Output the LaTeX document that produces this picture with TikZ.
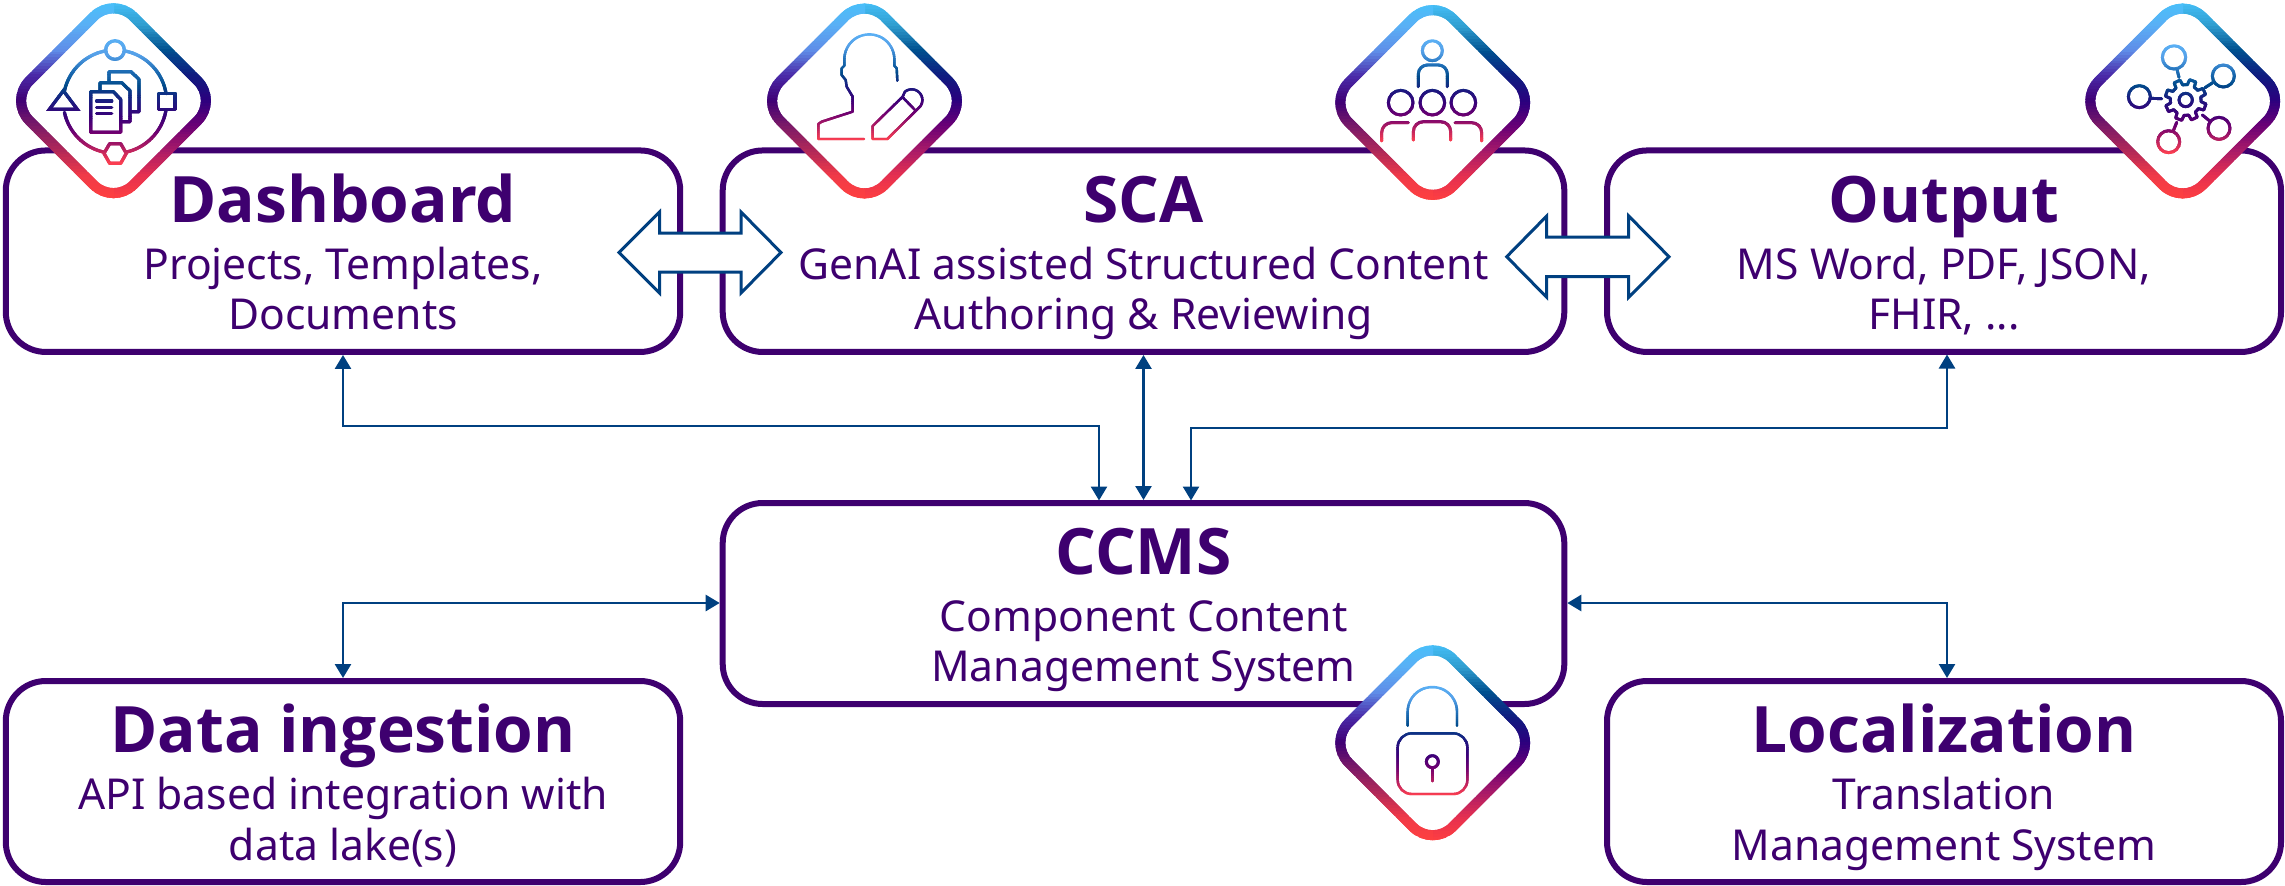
\documentclass[tikz,border=0pt]{standalone}
\usepackage{fontspec}
\setmainfont{Noto Sans}
\newfontfamily\titlefam{Open Sans}
\usetikzlibrary{arrows.meta}
\definecolor{boxp}{HTML}{3E006F}
\definecolor{connb}{HTML}{004080}
% ring stops, left side
\definecolor{RL0}{HTML}{47C1FA}\definecolor{RL1}{HTML}{5AAFF5}\definecolor{RL2}{HTML}{5F8DE8}
\definecolor{RL3}{HTML}{4A2AA8}\definecolor{RL4}{HTML}{3F0075}\definecolor{RL5}{HTML}{7A1A68}
\definecolor{RL6}{HTML}{B02858}\definecolor{RL7}{HTML}{F03A48}\definecolor{RL8}{HTML}{FF4040}
% ring stops, right side
\definecolor{RR0}{HTML}{47C1FA}\definecolor{RR1}{HTML}{2F9ED0}\definecolor{RR2}{HTML}{00508F}
\definecolor{RR3}{HTML}{0F1C80}\definecolor{RR4}{HTML}{2B007E}\definecolor{RR5}{HTML}{6A0076}
\definecolor{RR6}{HTML}{A81A68}\definecolor{RR7}{HTML}{E53050}\definecolor{RR8}{HTML}{FF4040}
% icon stops
\definecolor{IC0}{HTML}{5AB0F5}\definecolor{IC1}{HTML}{55A0E8}\definecolor{IC2}{HTML}{2070B8}
\definecolor{IC3}{HTML}{004A8A}\definecolor{IC4}{HTML}{1C1A80}\definecolor{IC5}{HTML}{3A0078}
\definecolor{IC6}{HTML}{700070}\definecolor{IC7}{HTML}{B82060}\definecolor{IC8}{HTML}{FF4050}
\colorlet{gradcol}{boxp}
\newcommand\gradstrips[7]{%
  \pgfmathsetmacro\gStep{(#5-#4)/#6}%
  \foreach \gi in {1,...,#6}{%
    \pgfmathsetmacro\gT{(\gi-0.5)/#6*8}%
    \pgfmathtruncatemacro\gI{floor(\gT)}%
    \pgfmathtruncatemacro\gN{\gI+1}%
    \pgfmathsetmacro\gF{100*(\gT-\gI)}%
    \colorlet{gradcol}{#1\gN!\gF!#1\gI}%
    \pgfmathsetmacro\gA{#4+(\gi-1)*\gStep}%
    \pgfmathsetmacro\gB{\gA+\gStep*1.6}%
    \begin{scope}\clip (#2,\gA) rectangle (#3,\gB); #7\end{scope}%
  }%
}
\newcommand\gemring[2]{%
  \begin{scope}[shift={(#1,#2)}]
    \fill[white,rounded corners=14pt] (0,-104)--(104,0)--(0,104)--(-104,0)--cycle;
    \gradstrips{RR}{-0.5}{110}{-100}{100}{70}{\draw[ringline] (0,-104)--(104,0)--(0,104)--(-104,0)--cycle;}
    \gradstrips{RL}{-110}{0.5}{-100}{100}{70}{\draw[ringline] (0,-104)--(104,0)--(0,104)--(-104,0)--cycle;}
  \end{scope}%
}
\tikzset{
  boxnode/.style={draw=boxp,line width=3pt,rounded corners=20pt,fill=white,inner sep=0pt},
  titletxt/.style={text=boxp,anchor=base,inner sep=0pt,font=\titlefam\fontsize{32}{36}\selectfont\bfseries},
  subtxt/.style={text=boxp,anchor=base,inner sep=0pt,font=\fontsize{21.3}{25}\selectfont},
  conn/.style={draw=connb,line width=1.3pt,{Triangle[length=7pt,width=8pt]}-{Triangle[length=7pt,width=8pt]}},
  fatarrow/.style={draw=connb,line width=1.5pt,fill=white,line join=miter},
  ringline/.style={draw=gradcol,line width=5pt,rounded corners=14pt},
  il/.style={draw=gradcol,line width=1.2pt,line cap=round,line join=round},
  ilb/.style={il,line width=1.6pt},
  ilm/.style={il,line width=1.45pt},
  zoomframe/.style={x=0.166667pt,y=-0.166667pt}
}
\begin{document}
\begin{tikzpicture}[x=0.5pt,y=-0.5pt]
\useasboundingbox (0,0) rectangle (2285,885);
% boxes
\node[boxnode,minimum width=337.2pt,minimum height=100.75pt] (dash) at (343,251.2) {};
\node[boxnode,minimum width=420.8pt,minimum height=100.75pt] (sca) at (1143.5,251.2) {};
\node[boxnode,minimum width=337pt,minimum height=100.75pt] (out) at (1944,251.2) {};
\node[boxnode,minimum width=420.8pt,minimum height=100.5pt] (ccms) at (1143.5,603.5) {};
\node[boxnode,minimum width=337.2pt,minimum height=100.5pt] (data) at (343,781.5) {};
\node[boxnode,minimum width=337pt,minimum height=100.5pt] (loc) at (1944,781.5) {};
% texts
\node[titletxt] (t1) at (343,222) {Dashboard};
\node[subtxt] (s1a) at (343,279) {Projects, Templates,};
\node[subtxt] (s1b) at (343,329.5) {Documents};
\node[titletxt] (t2) at (1143.5,222) {SCA};
\node[subtxt] (s2a) at (1143.5,279) {GenAI assisted Structured Content};
\node[subtxt] (s2b) at (1143.5,329.5) {Authoring \& Reviewing};
\node[titletxt] (t3) at (1944,222) {Output};
\node[subtxt] (s3a) at (1944,279) {MS Word, PDF, JSON,};
\node[subtxt] (s3b) at (1944,329.5) {FHIR, ...};
\node[titletxt] (t4) at (1143.5,574) {CCMS};
\node[subtxt] (s4a) at (1143.5,631) {Component Content};
\node[subtxt] (s4b) at (1143.5,681.5) {Management System};
\node[titletxt] (t5) at (343,752) {Data ingestion};
\node[subtxt] (s5a) at (343,809) {API based integration with};
\node[subtxt] (s5b) at (343,860) {data lake(s)};
\node[titletxt] (t6) at (1944,752) {Localization};
\node[subtxt] (s6a) at (1944,809) {Translation};
\node[subtxt] (s6b) at (1944,860) {Management System};
% connector helpers
\coordinate (ccmsA) at (1099,500.5);
\coordinate (ccmsB) at (1191,500.5);
\coordinate (outB) at (1947,354.5);
\coordinate (bendA) at (1099,426);
\coordinate (bendB) at (1191,428);
\coordinate (ccmsL) at (ccms.west |- 0,603);
\coordinate (ccmsR) at (ccms.east |- 0,603);
% connectors
\draw[conn] (dash.south) |- (bendA) -- (ccmsA);
\draw[conn] (sca.south) -- (ccms.north);
\draw[conn] (outB) |- (bendB) -- (ccmsB);
\draw[conn] (data.north) |- (ccmsL);
\draw[conn] (loc.north -| outB) |- (ccmsR);
% wide double arrows
\draw[fatarrow] (619,252.5)--(659.5,212)--(659.5,233)--(741,233)--(741,212)--(781,252.5)--(741,293)--(741,272)--(659.5,272)--(659.5,293)--cycle;
\draw[fatarrow] (1506.7,256.7)--(1546.7,216)--(1546.7,237)--(1628.7,237)--(1628.7,216)--(1669,256.7)--(1628.7,297.3)--(1628.7,276.7)--(1546.7,276.7)--(1546.7,297.3)--cycle;
% badges
\gemring{113.5}{100.7}
\gemring{864.5}{101}
\gemring{1432.7}{102.5}
\gemring{2182.7}{101}
\gemring{1432.7}{742.8}
% icon: dashboard
\begin{scope}[shift={(0,0)},zoomframe]
\gradstrips{IC}{130}{550}{118}{495}{60}{%
  \draw[ilb] plot[samples=30,domain=-79:-9] ({345+155*cos(\x)},{305+155*sin(\x)});
  \draw[ilb] plot[samples=30,domain=9:78] ({345+155*cos(\x)},{305+155*sin(\x)});
  \draw[ilb] plot[samples=30,domain=102:168] ({345+155*cos(\x)},{305+155*sin(\x)});
  \draw[ilb] plot[samples=30,domain=192:259] ({345+155*cos(\x)},{305+155*sin(\x)});
  \draw[ilb] (345,150) circle[radius=28];
  \draw[ilb] (312,460)--(329,431)--(362,431)--(379,460)--(362,490)--(329,490)--cycle;
  \draw[ilb] (475,280) rectangle (525,328);
  \draw[ilb,line join=miter] (190,272)--(148,328)--(232,328)--cycle;
  \draw[ilb] (272,275)--(340,275)--(362,298)--(362,397)--(272,397)--cycle;
  \draw[ilb] (300,272)--(300,248)--(365,248)--(390,272)--(390,365)--(364,365);
  \draw[ilb] (327,245)--(327,215)--(393,215)--(417,238)--(417,335)--(392,335);
  \draw[ilb] (290,303)--(335,303);
  \draw[ilb] (290,322)--(335,322);
  \draw[ilb] (290,340)--(335,340);
}
\end{scope}
% icon: author
\begin{scope}[shift={(750,0)},zoomframe]
\gradstrips{IC}{190}{530}{100}{423}{55}{%
  \draw[il] (442,242)--(440,205)--(433,197)--(433,178) -- plot[samples=30,domain=0:-180] ({358+75*cos(\x)},{178+75*sin(\x)}) -- (283,197)--(275,205)--(275,225)--(287,240)--(290,260)--(308,290)--(308,335)--(215,365)--(205,372)--(205,417)--(342,417);
  \draw[il] (368,417)--(368,378)--(458,290) -- plot[samples=30,domain=-130:38] ({485+32*cos(\x)},{300+32*sin(\x)}) -- (412,417)--cycle;
  \draw[il] (458,292)--(495,330);
}
\end{scope}
% icon: team
\begin{scope}[shift={(1320,0)},zoomframe]
\gradstrips{IC}{170}{500}{118}{428}{55}{%
  \draw[ilm] (337,152) circle[radius=30];
  \draw[ilm,rounded corners=4.5pt] (295,260)--(295,195)--(382,195)--(382,260);
  \draw[ilm] (242,308) circle[radius=37];
  \draw[ilm] (337,308) circle[radius=37];
  \draw[ilm] (430,308) circle[radius=37];
  \draw[ilm,rounded corners=5pt] (185,423)--(185,368)--(265,368);
  \draw[ilm,rounded corners=5pt] (280,420)--(280,365)--(392,365)--(392,420);
  \draw[ilm,rounded corners=5pt] (405,368)--(485,368)--(485,423);
}
\end{scope}
% icon: output
\begin{scope}[shift={(2060,0)},zoomframe]
\gradstrips{IC}{190}{540}{132}{465}{55}{%
  \draw[ilm] (342,172) circle[radius=35];
  \draw[ilm] (490,228) circle[radius=33];
  \draw[ilm] (238,290) circle[radius=33];
  \draw[ilm] (477,385) circle[radius=33];
  \draw[ilm] (326,425) circle[radius=33];
  \draw[ilm] (350,205)--(357,232);
  \draw[ilm] (458,248)--(435,263);
  \draw[ilm] (270,295)--(305,296);
  \draw[ilm] (448,362)--(427,345);
  \draw[ilm] (340,392)--(350,367);
  \draw[ilm] (377,300) circle[radius=20];
  \begin{scope}[shift={(377,300)}]
    \foreach \a in {20,65,...,335}{
      \draw[ilm] ({\a-22.5}:46)--({\a-14}:46)--({\a-9}:62)--({\a+9}:62)--({\a+14}:46)--({\a+22.5}:46);
    }
  \end{scope}
}
\end{scope}
% icon: lock
\begin{scope}[shift={(1320,630)},zoomframe]
\gradstrips{IC}{220}{455}{165}{500}{55}{%
  \draw[il] (263,287)--(263,245) -- plot[samples=30,domain=180:360] ({337+74*cos(\x)},{245+74*sin(\x)}) -- (411,287);
  \draw[il,rounded corners=7pt] (233,310) rectangle (442,492);
  \draw[ilm] (337,395) circle[radius=18];
  \draw[ilm] (337,413)--(337,453);
}
\end{scope}
\end{tikzpicture}
\end{document}
